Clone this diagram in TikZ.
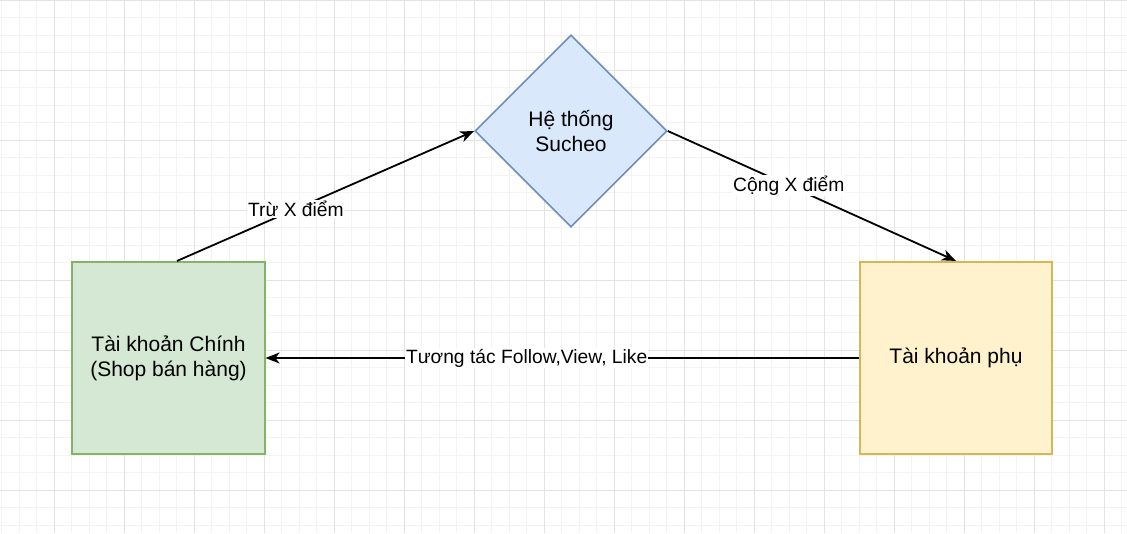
\documentclass[tikz,border=0pt]{standalone}
\usepackage{fontspec}
\setmainfont{Liberation Sans}
\usetikzlibrary{shapes.geometric,arrows.meta,calc}
\definecolor{gmin}{RGB}{243,243,243}
\definecolor{gmaj}{RGB}{227,227,227}
\definecolor{grfill}{HTML}{D5E8D4}
\definecolor{grline}{HTML}{82B366}
\definecolor{yfill}{HTML}{FFF2CC}
\definecolor{yline}{HTML}{D6B656}
\definecolor{bfill}{HTML}{DAE8FC}
\definecolor{bline}{HTML}{6C8EBF}
\tikzset{
  txt/.style={font=\fontsize{21}{25.2}\selectfont, text=black},
  lbltxt/.style={font=\fontsize{19.25}{23}\selectfont, text=black},
  boxnode/.style={draw, line width=1.6pt, minimum width=192.5pt, minimum height=192.5pt, align=center, inner sep=0pt, txt},
  decision/.style={diamond, draw=bline, fill=bfill, line width=1.6pt, minimum width=192pt, minimum height=192pt, inner sep=0pt, align=center, txt},
  flow/.style={line width=1.8pt, -{Stealth[length=14pt,width=11pt,inset=4pt]}},
  lbl/.style={fill=white, inner sep=1pt, lbltxt},
  gridmin/.style={gmin, line width=1pt},
  gridmaj/.style={gmaj, line width=1.2pt}
}
\begin{document}
\begin{tikzpicture}[x=1pt,y=-1pt]
\useasboundingbox (0,0) rectangle (1127,533);
\fill[white] (0,0) rectangle (1127,533);
% minor grid
\foreach \i in {0,...,64} \draw[gridmin] (1.8+17.5*\i,0) -- ++(0,533);
\foreach \j in {0,...,30} \draw[gridmin] (0,0.3+17.5*\j) -- ++(1127,0);
% major grid
\foreach \i in {0,...,15} \draw[gridmaj] (54.3+70*\i,0) -- ++(0,533);
\foreach \j in {0,...,7} \draw[gridmaj] (0,0.3+70*\j) -- ++(1127,0);
% nodes
\node[boxnode, fill=grfill, draw=grline] (main) at (168.5,358) {Tài khoản Chính\\(Shop bán hàng)};
\node[boxnode, fill=yfill, draw=yline] (sub) at (956,358) {Tài khoản phụ};
\node[decision] (sys) at (571,131) {Hệ thống\\Sucheo};
% connectors
\draw[flow] ($(main.north)+(8.5,0)$) -- node[lbl, pos=0.4] (l1) {Trừ X điểm} (sys.west);
\draw[flow] (sys.east) -- node[lbl, pos=0.42] (l2) {Cộng X điểm} (sub.north);
\draw[flow] (sub.west) -- node[lbl, pos=0.56] (l3) {Tương tác Follow,View, Like} (main.east);
\end{tikzpicture}
\end{document}
